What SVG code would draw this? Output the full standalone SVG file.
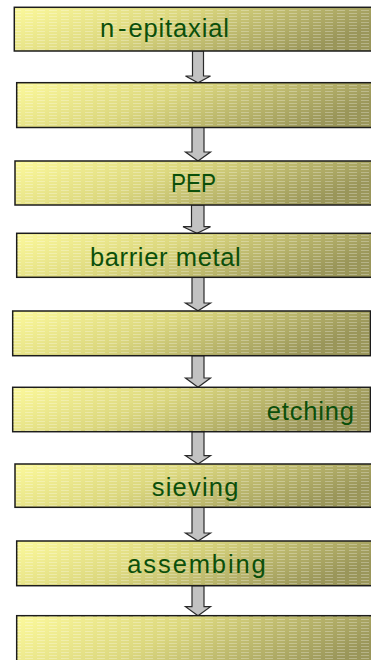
<svg xmlns="http://www.w3.org/2000/svg" width="371" height="660" viewBox="0 0 371 660">
<defs>
<linearGradient id="fillG" x1="0" y1="0" x2="1" y2="0.3">
<stop offset="0" stop-color="#fcf99c"/>
<stop offset="0.45" stop-color="#dcd87f"/>
<stop offset="1" stop-color="#9a965a"/>
</linearGradient>
<pattern id="dash" x="0" y="0" width="12" height="3" patternUnits="userSpaceOnUse">
<rect x="1" y="1" width="8" height="1" fill="#ffffff" fill-opacity="0.28"/>
</pattern>
</defs>
<style>
.box{fill:url(#fillG);stroke:#1c1c1c;stroke-width:1.5}
.pat{fill:url(#dash);stroke:none}
.lbl{font-family:"Liberation Sans",Arial,sans-serif;font-size:25.5px;fill:#0b4f0b}
.arr{fill:#c2c2c2;stroke:#2a2a2a;stroke-width:1.2;stroke-linejoin:miter}
</style>
<g id="connectors">
<path class="arr" d="M192.5,51 H203.5 V76 H210.5 L198,82.7 L185.5,76 H192.5 Z"/>
<path class="arr" d="M192,127.5 H204 V152 H210.5 L198,161 L185.5,152 H192 Z"/>
<path class="arr" d="M191.5,205 H204 V226.7 H210.5 L197,233.3 L183,226.7 H191.5 Z"/>
<path class="arr" d="M192,277.3 H204 V303 H210.5 L198,310.7 L185.5,303 H192 Z"/>
<path class="arr" d="M192,355.7 H204 V378 H210.5 L198,387.3 L185.5,378 H192 Z"/>
<path class="arr" d="M192,431.7 H204 V455.7 H210.5 L198,464 L185.5,455.7 H192 Z"/>
<path class="arr" d="M192,507.3 H204 V533 H210.5 L198,541 L185.5,533 H192 Z"/>
<path class="arr" d="M192,585.7 H204 V606.7 H210.5 L198,615.7 L185.5,606.7 H192 Z"/>
</g>
<g id="n1">
<rect class="box" x="14.3" y="7.3" width="370" height="43.7"/>
<rect class="pat" x="15" y="8" width="356" height="42"/>
<text class="lbl" x="100" y="37.3" textLength="129" lengthAdjust="spacing">n<tspan dx="3">-</tspan><tspan dx="1">epitaxial</tspan></text>
</g>
<g id="n2">
<rect class="box" x="16.7" y="82.7" width="370" height="44.8"/>
<rect class="pat" x="17.5" y="83.5" width="354" height="43"/>
</g>
<g id="n3">
<rect class="box" x="15" y="161" width="370" height="44"/>
<rect class="pat" x="16" y="162" width="355" height="42"/>
<text class="lbl" x="171" y="192.3" textLength="45" lengthAdjust="spacingAndGlyphs">PEP</text>
</g>
<g id="n4">
<rect class="box" x="16.7" y="233.3" width="370" height="44"/>
<rect class="pat" x="17.5" y="234" width="354" height="42.5"/>
<text class="lbl" x="90" y="266" textLength="150.7" lengthAdjust="spacing">barrier metal</text>
</g>
<g id="n5">
<rect class="box" x="12.7" y="311" width="357.8" height="44.7"/>
<rect class="pat" x="13.5" y="312" width="356" height="43"/>
</g>
<g id="n6">
<rect class="box" x="12.7" y="387.3" width="357.8" height="44.4"/>
<rect class="pat" x="13.5" y="388" width="356" height="43"/>
<text class="lbl" x="266.7" y="420" textLength="87.3" lengthAdjust="spacing">etching</text>
</g>
<g id="n7">
<rect class="box" x="15" y="464" width="370" height="43.3"/>
<rect class="pat" x="16" y="465" width="355" height="41.5"/>
<text class="lbl" x="151.7" y="496" textLength="86.7" lengthAdjust="spacing">sieving</text>
</g>
<g id="n8">
<rect class="box" x="16.7" y="541" width="370" height="44.7"/>
<rect class="pat" x="17.5" y="542" width="354" height="43"/>
<text class="lbl" x="127.3" y="573.3" textLength="138.4" lengthAdjust="spacing">assembing</text>
</g>
<g id="n9">
<rect class="box" x="16.7" y="615.7" width="370" height="60"/>
<rect class="pat" x="17.5" y="616.5" width="354" height="44"/>
</g>
</svg>
